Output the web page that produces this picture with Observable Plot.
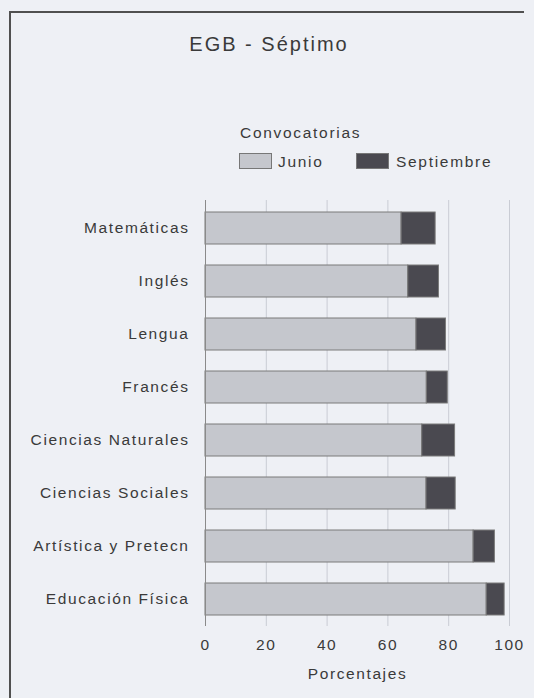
<!DOCTYPE html>
<html>
<head>
<meta charset="utf-8">
<script src="https://cdn.jsdelivr.net/npm/d3@7"></script>
<script src="https://cdn.jsdelivr.net/npm/@observablehq/plot@0.6"></script>
<style>
  html, body { margin:0; padding:0; background:#eef0f5; overflow:hidden; }
  #page { position:relative; width:534px; height:698px; overflow:hidden; background:#eef0f5;
          font-family:"Liberation Sans", Arial, sans-serif; color:#3a3a3a; }
  #lineL { position:absolute; left:9px; top:11px; width:2px; height:700px; background:#505050; }
  #lineT { position:absolute; left:9px; top:11px; width:515px; height:2px; background:#505050; }
  #header { position:absolute; left:0; top:0; width:534px; height:190px; }
  #title { position:absolute; left:0; width:534px; top:33px; text-align:center; font-size:20px; letter-spacing:2px; padding-left:4px; box-sizing:border-box; }
  #legtitle { position:absolute; left:240px; top:124px; font-size:15.5px; letter-spacing:1.7px; }
  .sw { position:absolute; top:153px; width:33px; height:16px; border:1px solid #777; box-sizing:border-box; }
  .lt { position:absolute; top:153px; font-size:15.5px; letter-spacing:1.7px; line-height:17px; }
  #chart { position:absolute; left:0; top:190px; }
</style>
</head>
<body>
<div id="page">
  <div id="lineL"></div>
  <div id="lineT"></div>
  <div id="header">
    <div id="title"></div>
    <div id="legtitle"></div>
    <div class="sw" id="sw0" style="left:239px"></div>
    <div class="lt" id="lt0" style="left:278px"></div>
    <div class="sw" id="sw1" style="left:356px"></div>
    <div class="lt" id="lt1" style="left:396px"></div>
  </div>
  <div id="chart"></div>
</div>
<script>
const titulo = "EGB - Séptimo";
const leyendaTitulo = "Convocatorias";
const materias = ["Matemáticas", "Inglés", "Lengua", "Francés", "Ciencias Naturales", "Ciencias Sociales", "Artística y Pretecn", "Educación Física"];
const junio = [64.5, 66.7, 69.4, 72.8, 71.3, 72.7, 88.2, 92.5];
const septiembre = [11.2, 10.1, 9.7, 6.9, 10.8, 9.6, 7.0, 5.9];
const series = ["Junio", "Septiembre"];
const colores = ["#c5c7cd", "#4a4950"];
const xTicks = [0, 20, 40, 60, 80, 100];
const xLabel = "Porcentajes";

document.getElementById("title").textContent = titulo;
document.getElementById("legtitle").textContent = leyendaTitulo;
series.forEach((s, i) => {
  document.getElementById("sw" + i).style.background = colores[i];
  document.getElementById("lt" + i).textContent = s;
});

const data = materias.flatMap((m, i) => [
  {materia: m, conv: series[0], valor: junio[i]},
  {materia: m, conv: series[1], valor: septiembre[i]}
]);

const chart = Plot.plot({
  width: 534,
  height: 508,
  marginTop: 10,
  marginBottom: 72,
  marginLeft: 205,
  marginRight: 25,
  x: {domain: [0, 100]},
  y: {domain: materias, paddingInner: 0.4, paddingOuter: 0.2},
  color: {domain: series, range: colores},
  style: {fontFamily: "Liberation Sans, Arial, sans-serif", fontSize: "15.5px", color: "#3a3a3a", background: "transparent", letterSpacing: "1.6px"},
  marks: [
    Plot.gridX(xTicks, {stroke: "#c9ccd4", strokeOpacity: 1}),
    Plot.barX(data, {y: "materia", x: "valor", fill: "conv", stroke: "#7a7a7a", strokeWidth: 1}),
    Plot.ruleX([0], {stroke: "#8a8a8a"}),
    Plot.axisX({ticks: xTicks, tickSize: 0, tickPadding: 12, label: xLabel, labelAnchor: "center", labelArrow: "none", labelOffset: 52, style: {letterSpacing: "2.4px"}}),
    Plot.axisY({tickSize: 0, tickPadding: 16, label: null})
  ]
});
document.getElementById("chart").appendChild(chart);
</script>
</body>
</html>
